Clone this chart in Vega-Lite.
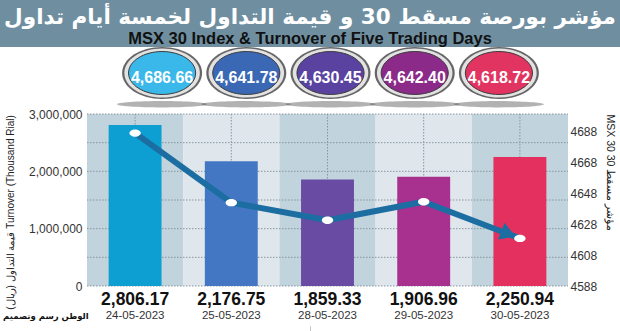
{
  "$schema": "https://vega.github.io/schema/vega-lite/v6.json",
  "padding": 0,
  "background": "white",
  "spacing": 0,
  "config": {"view": {"stroke": null}, "concat": {"spacing": 0}},
  "datasets": {
    "days": [
      {"date": "24-05-2023", "turnover": 2806.17, "msx30": 4686.66},
      {"date": "25-05-2023", "turnover": 2176.75, "msx30": 4641.78},
      {"date": "28-05-2023", "turnover": 1859.33, "msx30": 4630.45},
      {"date": "29-05-2023", "turnover": 1906.96, "msx30": 4642.40},
      {"date": "30-05-2023", "turnover": 2250.94, "msx30": 4618.72}
    ],
    "gridlines": [{"tick": 0}, {"tick": 500}, {"tick": 1000}, {"tick": 1500}, {"tick": 2000}, {"tick": 2500}, {"tick": 3000}]
  },
  "vconcat": [
    {
      "width": 620,
      "height": 47,
      "view": {"fill": "#6f8fa1", "stroke": null},
      "data": {"values": [{"ar": "مؤشر بورصة مسقط 30 و قيمة التداول لخمسة أيام تداول", "en": "MSX 30 Index & Turnover of Five Trading Days"}]},
      "layer": [
        {"mark": {"type": "text", "font": "DejaVu Sans", "fontWeight": "bold", "fontSize": 21.5, "color": "white", "baseline": "alphabetic", "dy": 0}, "encoding": {"text": {"field": "ar"}}},
        {"mark": {"type": "text", "font": "Liberation Sans", "fontWeight": "bold", "fontSize": 16.5, "color": "#111111", "baseline": "alphabetic", "dy": 20}, "encoding": {"text": {"field": "en"}}}
      ]
    },
    {
      "width": 620,
      "height": 172,
      "layer": [
        {
          "data": {"name": "days"},
          "layer": [
            {
              "mark": {"type": "bar"},
              "encoding": {
                "x": {"field": "date", "type": "ordinal", "sort": null, "scale": {"type": "band", "paddingInner": 0, "paddingOuter": 0, "range": [87, 568]}, "axis": null},
                "fill": {"field": "date", "type": "nominal", "sort": null, "scale": {"range": ["#c1d3dd", "#dfe7ec", "#c1d3dd", "#dfe7ec", "#c1d3dd"]}, "legend": null}
              }
            },
            {
              "mark": {"type": "rule", "stroke": "#8796a0", "strokeDash": [1.5, 1.5], "strokeWidth": 1},
              "encoding": {"x": {"field": "date", "type": "ordinal", "sort": null}}
            },
            {
              "data": {"name": "gridlines"},
              "mark": {"type": "rule", "stroke": "#8796a0", "strokeDash": [1.5, 1.5], "strokeWidth": 1},
              "encoding": {
                "x": {"datum": "24-05-2023", "type": "ordinal", "bandPosition": 0},
                "x2": {"datum": "30-05-2023", "bandPosition": 1},
                "y": {"field": "tick", "type": "quantitative"}
              }
            },
            {
              "mark": {"type": "bar", "width": {"band": 0.55}},
              "encoding": {
                "x": {"field": "date", "type": "ordinal", "sort": null},
                "y": {
                  "field": "turnover", "type": "quantitative",
                  "scale": {"domain": [0, 3000], "nice": false, "zero": true},
                  "axis": {
                    "offset": -87,
                    "values": [0, 500, 1000, 1500, 2000, 2500, 3000],
                    "labelExpr": "format(datum.value * 1000, ',')",
                    "domain": false, "ticks": false, "grid": false,
                    "labelPadding": 5,
                    "labelFont": "Liberation Sans", "labelFontSize": 12, "labelColor": "#333333",
                    "title": "قيمة التداول (ريال)‏ Turnover (Thousand Rial)",
                    "titleFont": "Liberation Sans", "titleFontSize": 10, "titleFontWeight": "normal", "titleColor": "#222222",
                    "titlePadding": 13, "titleY": 98
                  }
                },
                "color": {"field": "date", "type": "nominal", "sort": null, "scale": {"range": ["#0e9fd2", "#4377c3", "#6a4ba3", "#a8308f", "#e3305e"]}, "legend": null}
              }
            },
            {
              "mark": {"type": "text", "font": "Liberation Sans", "fontWeight": "bold", "fontSize": 17.5, "baseline": "alphabetic", "dy": 19, "color": "#111111"},
              "encoding": {
                "x": {"field": "date", "type": "ordinal", "sort": null},
                "y": {"datum": 0, "type": "quantitative"},
                "text": {"field": "turnover", "type": "quantitative", "format": ",.2f"}
              }
            },
            {
              "mark": {"type": "text", "font": "Liberation Sans", "fontSize": 11.5, "baseline": "alphabetic", "dy": 33, "color": "#333333"},
              "encoding": {
                "x": {"field": "date", "type": "ordinal", "sort": null},
                "y": {"datum": 0, "type": "quantitative"},
                "text": {"field": "date", "type": "nominal"}
              }
            },
            {
              "data": {"values": [{"credit": "الوطن رسم وتصميم"}]},
              "mark": {"type": "text", "font": "DejaVu Sans", "fontWeight": "bold", "fontSize": 8.5, "baseline": "alphabetic", "align": "left", "dx": -132, "dy": 33, "color": "#111111"},
              "encoding": {
                "x": {"datum": "24-05-2023", "type": "ordinal"},
                "y": {"datum": 0, "type": "quantitative"},
                "text": {"field": "credit", "type": "nominal"}
              }
            },
            {
              "data": {"values": [{}]},
              "mark": {"type": "bar", "color": "#151515"},
              "encoding": {
                "y": {"datum": -700, "type": "quantitative"},
                "y2": {"datum": -1000}
              }
            }
          ]
        },
        {
          "data": {"name": "days"},
          "encoding": {
            "x": {"field": "date", "type": "ordinal", "sort": null, "scale": {"type": "band", "paddingInner": 0, "paddingOuter": 0, "range": [87, 568]}, "axis": null},
            "y": {
              "field": "msx30", "type": "quantitative",
              "scale": {"domain": [4588, 4699], "nice": false, "zero": false},
              "axis": {
                "orient": "right",
                "offset": -52,
                "values": [4588, 4608, 4628, 4648, 4668, 4688],
                "format": "d",
                "domain": false, "ticks": false, "grid": false,
                "labelPadding": 2,
                "labelFont": "Liberation Sans", "labelFontSize": 12, "labelColor": "#333333",
                "title": "MSX 30 مؤشر مسقط 30",
                "titleFont": "Liberation Sans", "titleFontSize": 10.5, "titleFontWeight": "normal", "titleColor": "#222222",
                "titleAngle": 90, "titleAnchor": "end", "titleAlign": "left", "titlePadding": 8
              }
            }
          },
          "layer": [
            {"mark": {"type": "line", "color": "#1c6ea2", "strokeWidth": 6, "strokeCap": "round", "strokeJoin": "round"}},
            {
              "transform": [{"filter": "datum.date == '30-05-2023'"}],
              "mark": {"type": "point", "shape": "M-0.25,0L-1,-0.45L-1,0.45Z", "size": 1600, "filled": true, "opacity": 1, "color": "#1c6ea2", "angle": 21.6}
            },
            {"mark": {"type": "point", "shape": "M-1,0A1,0.65,0,1,0,1,0A1,0.65,0,1,0,-1,0Z", "size": 130, "filled": true, "opacity": 1, "color": "white"}}
          ]
        },
        {
          "data": {"name": "days"},
          "encoding": {
            "x": {"field": "date", "type": "ordinal", "sort": null, "scale": {"type": "point", "range": [120, 541]}, "axis": null},
            "y": {"datum": 3715, "type": "quantitative", "scale": {"domain": [0, 3000], "nice": false}, "axis": null}
          },
          "layer": [
            {
              "mark": {"type": "point", "shape": "M-1,0A1,0.07,0,1,0,1,0A1,0.07,0,1,0,-1,0Z", "size": 8100, "filled": true, "opacity": 0.45, "color": "#555555"},
              "encoding": {"y": {"datum": 3170, "type": "quantitative"}}
            },
            {"mark": {"type": "point", "shape": "M-1,0A1,0.65,0,1,0,1,0A1,0.65,0,1,0,-1,0Z", "size": 6400, "filled": true, "opacity": 1, "color": "#666666"}},
            {"mark": {"type": "point", "shape": "M-1,0A1,0.65,0,1,0,1,0A1,0.65,0,1,0,-1,0Z", "size": 5700, "filled": true, "opacity": 1, "color": "#e2e2e2"}},
            {
              "mark": {"type": "point", "shape": "M-1,0A1,0.64,0,1,0,1,0A1,0.64,0,1,0,-1,0Z", "size": 4500, "filled": true, "opacity": 1, "stroke": "#3a3a3a", "strokeWidth": 1},
              "encoding": {"color": {"field": "date", "type": "nominal", "sort": null, "scale": {"range": ["#3bb8ea", "#3b68b4", "#5a42a0", "#8c2a8a", "#e23460"]}, "legend": null}}
            },
            {
              "mark": {"type": "text", "font": "Liberation Sans", "fontWeight": "bold", "fontSize": 16, "baseline": "alphabetic", "dy": 10, "color": "white"},
              "encoding": {"text": {"field": "msx30", "type": "quantitative", "format": ",.2f"}}
            }
          ]
        }
      ],
      "resolve": {
        "scale": {"x": "independent", "y": "independent", "color": "independent", "fill": "independent"},
        "axis": {"x": "independent", "y": "independent"}
      }
    }
  ]
}
